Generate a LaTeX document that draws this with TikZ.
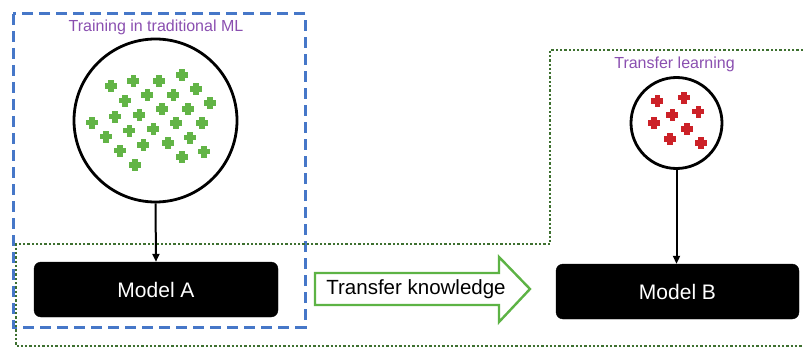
\documentclass[tikz,border=0pt]{standalone}
\usepackage{fontspec}
\setmainfont{Liberation Sans}
\usetikzlibrary{arrows.meta}
\definecolor{titlepurple}{HTML}{8A4FB0}
\definecolor{dashblue}{HTML}{4677C8}
\definecolor{dotgreen}{HTML}{3E7030}
\definecolor{plusgreen}{HTML}{62B446}
\definecolor{plusred}{HTML}{CC2128}
\definecolor{arrowgreen}{HTML}{5DB345}
\tikzset{
  modelbox/.style={draw=black, fill=black, rounded corners=7pt, text=white, font=\fontsize{21}{25}\selectfont, inner sep=0pt},
  datacircle/.style={circle, draw=black, line width=2.8pt, inner sep=0pt},
  titletext/.style={text=titlepurple, font=\fontsize{16}{19}\selectfont, inner sep=0pt},
  flow/.style={line width=2pt, -{Triangle[length=8pt,width=7pt]}},
  bluedash/.style={draw=dashblue, line width=3pt, dash pattern=on 11pt off 6pt},
  greendot/.style={draw=dotgreen, line width=2.6pt, dash pattern=on 2.3pt off 2pt},
  pluspt/.pic={\fill (-6,-2.8) rectangle (6,2.8); \fill (-2.8,-6) rectangle (2.8,6);}
}
\begin{document}
\begin{tikzpicture}[x=1pt,y=-1pt]
\useasboundingbox (0,0) rectangle (803,350);
% frames
\draw[bluedash] (13,14) rectangle (305,327);
\draw[greendot] (803,50) -- (550,50) -- (550,244) -- (16,244) -- (16,346) -- (803,346);
% circles
\node[datacircle, minimum size=163pt] (cA) at (155.5,120.5) {};
\node[datacircle, minimum size=91pt] (cB) at (676.5,123) {};
% titles
\node[titletext] (tA) at (156,27) {Training in traditional ML};
\node[titletext] (tB) at (674.5,64) {Transfer learning};
% models
\node[modelbox, minimum width=244pt, minimum height=55pt] (mA) at (156,289.5) {Model A};
\node[modelbox, minimum width=243pt, minimum height=55pt] (mB) at (677.5,291.5) {Model B};
% arrows
\draw[flow] (cA.south) -- (mA.north);
\draw[flow] (cB.south) -- (cB.south |- mB.north);
% transfer knowledge arrow
\draw[draw=arrowgreen, line width=2.4pt, fill=white, line join=miter]
  (315,273) -- (499,273) -- (499,257) -- (530,289) -- (499,322) -- (499,305) -- (315,305) -- cycle;
\node[font=\fontsize{20.5}{24}\selectfont, inner sep=0pt] (tk) at (416,289) {Transfer knowledge};
% green points
\foreach \x/\y in {110.7/86,133.3/81,159/81,182/75,125/100.7,147.3/95,173.3/95,196/89.3,210/103.3,115/116.7,139.3/115,161.7/109.3,187.7/109.3,91.7/122.7,129.3/130.7,153.3/129,175.7/123.3,201.7/123.3,106/136.7,143.3/145,167.7/143.3,190/137.7,120/150.7,204/151.7,182/157.3,135/165}
  \pic[fill=plusgreen] at (\x,\y) {pluspt};
% red points
\foreach \x/\y in {657.3/101,684/97.7,672.3/115,698.3/111.7,654/123.3,686.7/129.3,670/139.3,700.7/143.3}
  \pic[fill=plusred] at (\x,\y) {pluspt};
\end{tikzpicture}
\end{document}
